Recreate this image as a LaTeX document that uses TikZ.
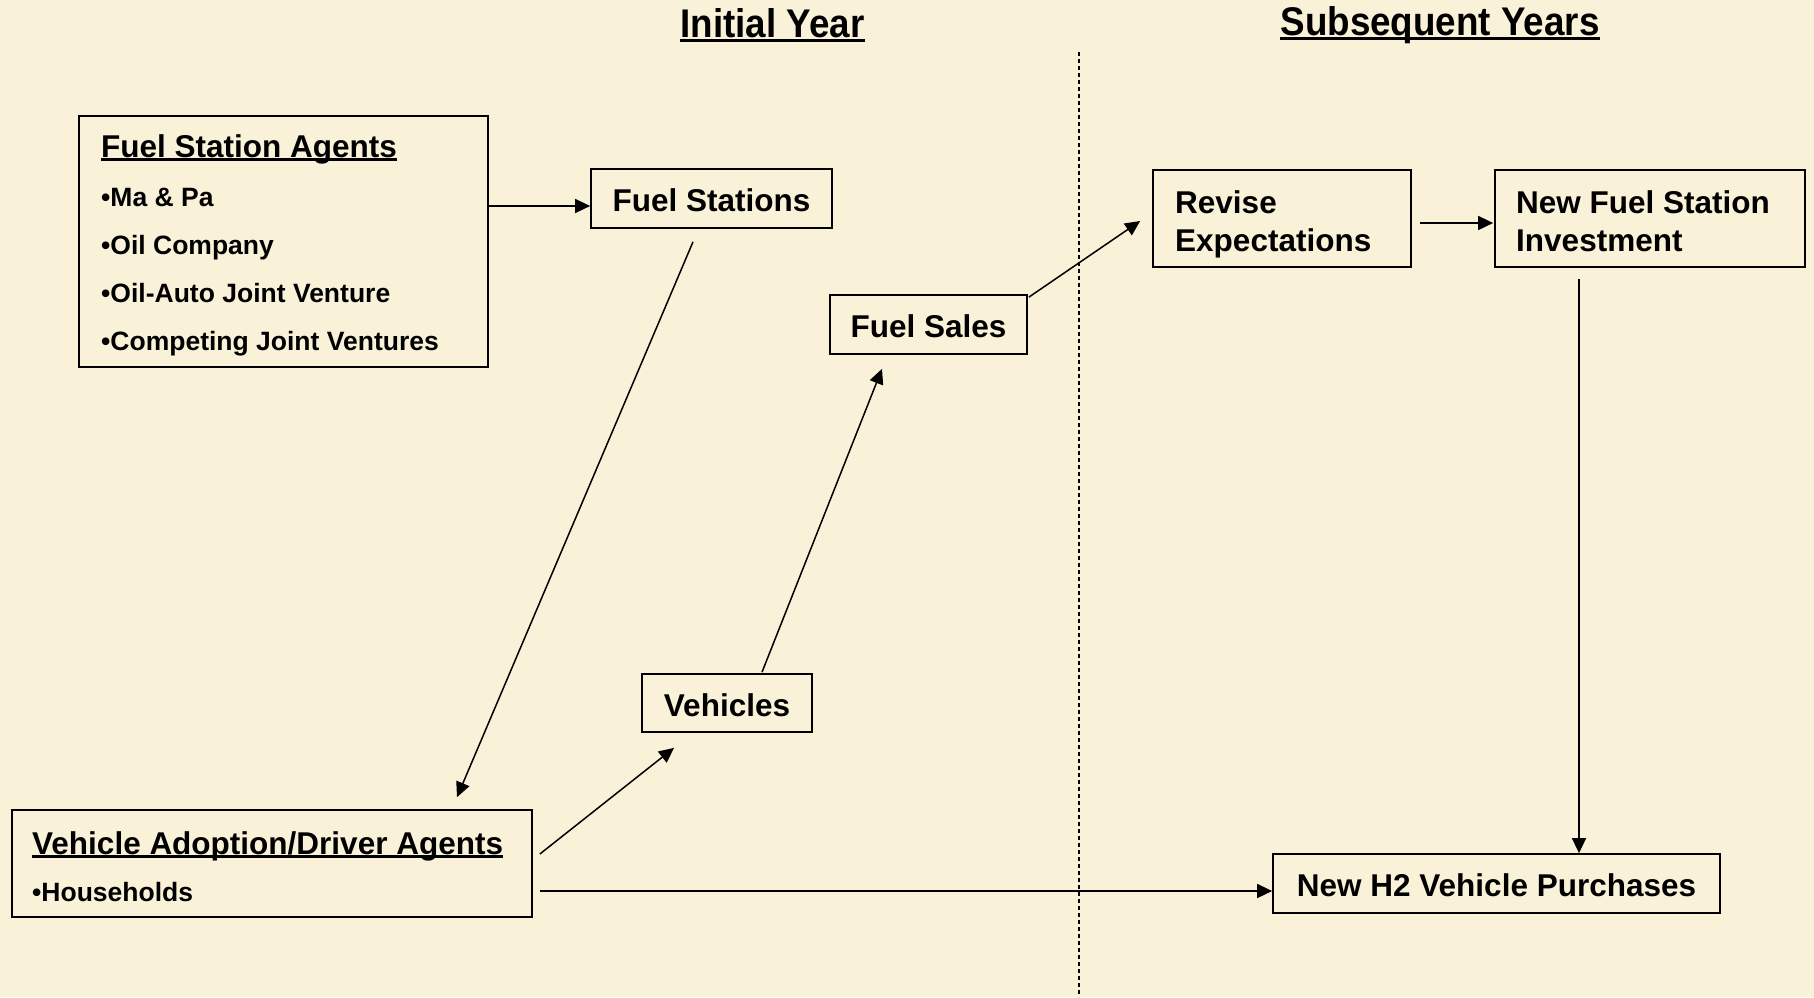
\documentclass[tikz,border=0pt]{standalone}
\usepackage{fontspec}
\usepackage{graphicx}
\setmainfont{Liberation Sans}
\usetikzlibrary{arrows.meta,calc}
\definecolor{parch}{RGB}{250,241,217}
\newsavebox\ulbox
\newcommand\myul[1]{\sbox\ulbox{#1}\rlap{\rule[-0.12em]{\wd\ulbox}{0.075em}}\usebox\ulbox}
\begin{document}
\begin{tikzpicture}[x=1pt,y=-1pt,
  frame/.style={draw=black, line width=1.7pt, inner sep=0pt},
  lbl/.style={font=\fontsize{31.5}{38}\selectfont\bfseries, text height=26pt, text depth=0pt},
  txt/.style={inner sep=0pt, anchor=base west, font=\fontsize{31.5}{38}\selectfont\bfseries},
  itm/.style={inner sep=0pt, anchor=base west, font=\fontsize{26.5}{32}\selectfont\bfseries},
  hdr/.style={inner sep=0pt, anchor=base, font=\fontsize{40}{48}\selectfont\bfseries},
  arr/.style={line width=1.5pt, -{Triangle[length=15pt,width=14pt]}}]
\fill[parch] (0,0) rectangle (1814,997);
\useasboundingbox (0,0) rectangle (1814,997);

% headers
\node[hdr] (h1) at (772.5,37) {\scalebox{0.92}[1]{\myul{Initial Year}}};
\node[hdr] (h2hdr) at (1440,35) {\scalebox{0.92}[1]{\myul{Subsequent Years}}};

% divider
\draw[line width=1.2pt, dash pattern=on 4pt off 3pt] (1079,52) -- (1079,997);

% Fuel Station Agents
\node[frame, minimum width=409pt, minimum height=251pt] (fsa) at (283.5,241.5) {};
\node[txt] (fsah) at (101,157) {\myul{Fuel Station Agents}};
\node[itm] (fsa1) at (101,206) {•Ma \& Pa};
\node[itm] (fsa2) at (101,254) {•Oil Company};
\node[itm] (fsa3) at (101,302) {•Oil-Auto Joint Venture};
\node[itm] (fsa4) at (101,350) {•Competing Joint Ventures};

% Vehicle Adoption
\node[frame, minimum width=520pt, minimum height=107pt] (va) at (272,863.5) {};
\node[txt] (vah) at (32,854) {\myul{Vehicle Adoption/Driver Agents}};
\node[itm] (va1) at (32,901) {•Households};

% simple boxes
\node[frame, lbl, minimum width=241pt, minimum height=59pt] (fs) at (711.5,198.5) {Fuel Stations};
\node[frame, lbl, minimum width=197pt, minimum height=59pt] (sales) at (928.5,324.5) {Fuel Sales};
\node[frame, lbl, minimum width=170pt, minimum height=58pt] (veh) at (727,703) {Vehicles};
\node[frame, lbl, minimum width=447pt, minimum height=59pt] (h2) at (1496.5,883.5) {New H2 Vehicle Purchases};

% two-line boxes
\node[frame, minimum width=258pt, minimum height=97pt] (rev) at (1282,218.5) {};
\node[txt] (rev1) at (1175,213) {Revise};
\node[txt] (rev2) at (1175,251) {Expectations};
\node[frame, minimum width=310pt, minimum height=97pt] (nfsi) at (1650,218.5) {};
\node[txt] (nfsi1) at (1516,213) {New Fuel Station};
\node[txt] (nfsi2) at (1516,251) {Investment};

% connectors
\draw[arr] ($(fsa.east)+(0,-35.5)$) -- ($(fs.west)+(0,7.5)$);
\draw[arr] ($(fs.south)+(-18.5,13)$) -- ($(va.north)+(185,-12)$);
\draw[arr] ($(va.east)+(7,-9.5)$) -- ($(veh.south)+(-53,15)$);
\draw[arr] ($(veh.north)+(35,-1)$) -- ($(sales.south)+(-46.5,14)$);
\draw[arr] ($(sales.north east)+(1,3)$) -- ($(rev.west)+(-12,2.5)$);
\draw[arr] ($(rev.east)+(8,4.5)$) -- ($(nfsi.west)+(-1,4.5)$);
\draw[arr] ($(nfsi.south)+(-71,11)$) -- ($(h2.north)+(82.5,0)$);
\draw[arr] ($(va.east)+(7,27.5)$) -- ($(h2.west)+(0,7.5)$);
\end{tikzpicture}
\end{document}
